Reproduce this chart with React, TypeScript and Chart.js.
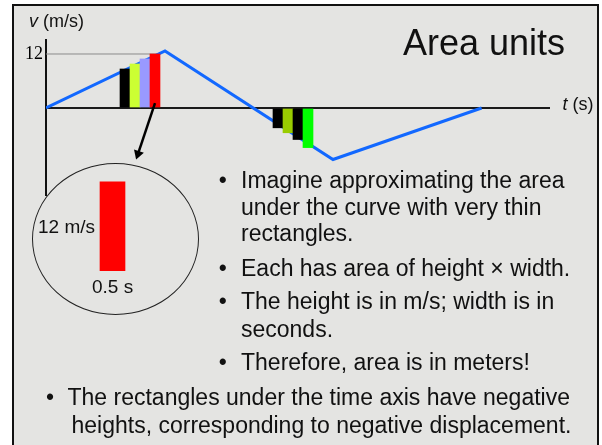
import React, { useEffect, useRef } from "react";
import { Chart, registerables } from "chart.js";

Chart.register(...registerables);

// Velocity–time curve (t in s, v in m/s)
const VELOCITY_T = [0, 5.95, 14.35, 21.78];
const VELOCITY_V = [0, 12.67, -11.44, 0];

// Thin strips above the time axis
const POS_STRIP_T = [3.95, 4.45, 4.95, 5.45];
const POS_STRIP_V = [8.67, 9.78, 10.9, 12];
const POS_STRIP_COLORS = ["#000000", "#ccff33", "#9999ff", "#ff0000"];

// Thin strips below the time axis
const NEG_STRIP_T = [11.6, 12.1, 12.6, 13.1];
const NEG_STRIP_V = [-4.4, -5.5, -7.0, -8.8];
const NEG_STRIP_COLORS = ["#000000", "#99cc00", "#000000", "#00ff00"];

// Guide from the axis to the 12 m/s level
const GUIDE_T = [0, 5.7];
const GUIDE_V = [12, 12];

// Arrow from the red strip down to the enlarged view
const ARROW_T = [5.45, 4.6];
const ARROW_V = [1.1, -10.2];

// Enlarged strip: one strip of 0.5 s by 12 m/s
const ZOOM_STRIP_T = [1.33];
const ZOOM_STRIP_V = [12];

const Y_TICKS = [0, 12];

const UPPER_LINES = [
  { text: "Imagine approximating the area", base: 188, bullet: true },
  { text: "under the curve with very thin", base: 215, bullet: false },
  { text: "rectangles.", base: 241.7, bullet: false },
  { text: "Each has area of height \u00d7 width.", base: 276.7, bullet: true },
  { text: "The height is in m/s; width is in", base: 309.5, bullet: true },
  { text: "seconds.", base: 337, bullet: false },
  { text: "Therefore, area is in meters!", base: 370, bullet: true },
];

const LOWER_LINES = [
  { text: "The rectangles under the time axis have negative", base: 405, left: 67.5, bullet: true },
  { text: "heights, corresponding to negative displacement.", base: 433, left: 71.5, bullet: false },
];

const SANS = '"Liberation Sans", Arial, Helvetica, sans-serif';
const BODY = 23;

function Line(props: { text: string; left: number; base: number; size: number }) {
  const { text, left, base, size } = props;
  return (
    <div
      style={{
        position: "absolute",
        left,
        top: base - 0.8465 * size,
        fontSize: size,
        lineHeight: `${size}px`,
        whiteSpace: "nowrap",
        color: "#111",
        fontFamily: SANS,
      }}
    >
      {text}
    </div>
  );
}

function Bullet(props: { cx: number; base: number }) {
  const size = 23;
  return (
    <div
      style={{
        position: "absolute",
        left: props.cx - 0.175 * size,
        top: props.base - 0.8465 * size,
        fontSize: size,
        lineHeight: `${size}px`,
        color: "#111",
        fontFamily: SANS,
      }}
    >
      {"\u2022"}
    </div>
  );
}

export default function App() {
  const canvasRef = useRef<HTMLCanvasElement>(null);

  useEffect(() => {
    const canvas = canvasRef.current;
    if (!canvas) return;
    const chart = new Chart(canvas, {
      type: "line",
      data: {
        datasets: [
          {
            type: "line",
            data: GUIDE_T.map((t, i) => ({ x: t, y: GUIDE_V[i] })),
            borderColor: "#8a8a8a",
            borderWidth: 1,
            pointRadius: 0,
            order: 4,
          },
          {
            type: "line",
            data: VELOCITY_T.map((t, i) => ({ x: t, y: VELOCITY_V[i] })),
            borderColor: "#1268ff",
            borderWidth: 3,
            pointRadius: 0,
            tension: 0,
            order: 3,
          },
          {
            type: "bar",
            data: [
              ...POS_STRIP_T.map((t, i) => ({ x: t, y: POS_STRIP_V[i] })),
              ...NEG_STRIP_T.map((t, i) => ({ x: t, y: NEG_STRIP_V[i] })),
            ],
            backgroundColor: [...POS_STRIP_COLORS, ...NEG_STRIP_COLORS],
            borderWidth: 0,
            barThickness: 10,
            grouped: false,
            order: 1,
          },
          {
            // enlarged view of the red strip, on its own magnified axes
            type: "bar",
            xAxisID: "xz",
            yAxisID: "yz",
            data: ZOOM_STRIP_T.map((t, i) => ({ x: t, y: ZOOM_STRIP_V[i] })),
            backgroundColor: "#ff0000",
            borderWidth: 0,
            barThickness: 25,
            grouped: false,
            clip: false,
            order: 1,
          } as any,
          {
            type: "line",
            data: ARROW_T.map((t, i) => ({ x: t, y: ARROW_V[i] })),
            borderColor: "#000",
            borderWidth: 2.5,
            pointRadius: [0, 6],
            pointStyle: "triangle",
            pointRotation: 198.5,
            pointBackgroundColor: "#000",
            pointBorderWidth: 0,
            order: 0,
          } as any,
        ],
      },
      options: {
        animation: false,
        responsive: false,
        maintainAspectRatio: false,
        devicePixelRatio: 1,
        events: [],
        layout: { padding: { left: 0, top: 40, right: 52, bottom: 250 } },
        plugins: { legend: { display: false }, tooltip: { enabled: false } },
        scales: {
          x: { type: "linear", min: 0, max: 25.2, offset: false, display: false },
          y: {
            type: "linear",
            min: -19.33,
            max: 15.11,
            z: 1,
            afterBuildTicks: (scale: any) => {
              scale.ticks = Y_TICKS.map((v) => ({ value: v }));
            },
            afterFit: (scale: any) => {
              scale.width = 46;
            },
            ticks: {
              padding: 3,
              color: "#000",
              font: { family: '"Liberation Serif", "Times New Roman", serif', size: 18 },
              callback: (v: any) => (v === 12 ? "12" : ""),
            },
            grid: {
              drawTicks: false,
              lineWidth: 2,
              color: (ctx: any) => (ctx.tick && ctx.tick.value === 0 ? "#1a1a1a" : "rgba(0,0,0,0)"),
            },
            border: { display: true, color: "#111", width: 2 },
          },
          xz: { type: "linear", min: 0, max: 10.08, offset: false, display: false },
          yz: { type: "linear", min: 10.23, max: 31.18, display: false },
        },
      } as any,
    });
    return () => chart.destroy();
  }, []);

  return (
    <div
      style={{
        position: "absolute",
        left: 0,
        top: 0,
        width: 602,
        height: 445,
        overflow: "hidden",
        background: "#ffffff",
        fontFamily: SANS,
      }}
    >
      <div
        style={{
          position: "absolute",
          left: 12,
          top: 4,
          width: 587,
          height: 460,
          boxSizing: "border-box",
          border: "2px solid #111",
          borderBottom: "none",
          background: "#e4e4e2",
        }}
      />
      <canvas
        ref={canvasRef}
        width={602}
        height={445}
        style={{ position: "absolute", left: 0, top: 0 }}
      />
      <div
        style={{
          position: "absolute",
          left: 32,
          top: 163,
          width: 167,
          height: 152,
          boxSizing: "border-box",
          border: "1px solid #222",
          borderRadius: "50%",
        }}
      />
      <div
        style={{
          position: "absolute",
          left: 29,
          top: 27 - 0.8465 * 18,
          fontSize: 18,
          lineHeight: "18px",
          color: "#111",
          whiteSpace: "nowrap",
        }}
      >
        <i>v</i> (m/s)
      </div>
      <div
        style={{
          position: "absolute",
          left: 562.5,
          top: 110 - 0.8465 * 18,
          fontSize: 18,
          lineHeight: "18px",
          color: "#111",
          whiteSpace: "nowrap",
        }}
      >
        <i>t</i> (s)
      </div>
      <Line text="Area units" left={403} base={55} size={36} />
      <Line text="12 m/s" left={38} base={233.3} size={19} />
      <Line text="0.5 s" left={92} base={292.7} size={19} />
      {UPPER_LINES.map((l, i) => (
        <React.Fragment key={"u" + i}>
          {l.bullet && <Bullet cx={222.7} base={l.base} />}
          <Line text={l.text} left={241} base={l.base} size={BODY} />
        </React.Fragment>
      ))}
      {LOWER_LINES.map((l, i) => (
        <React.Fragment key={"l" + i}>
          {l.bullet && <Bullet cx={50} base={l.base} />}
          <Line text={l.text} left={l.left} base={l.base} size={BODY} />
        </React.Fragment>
      ))}
    </div>
  );
}
